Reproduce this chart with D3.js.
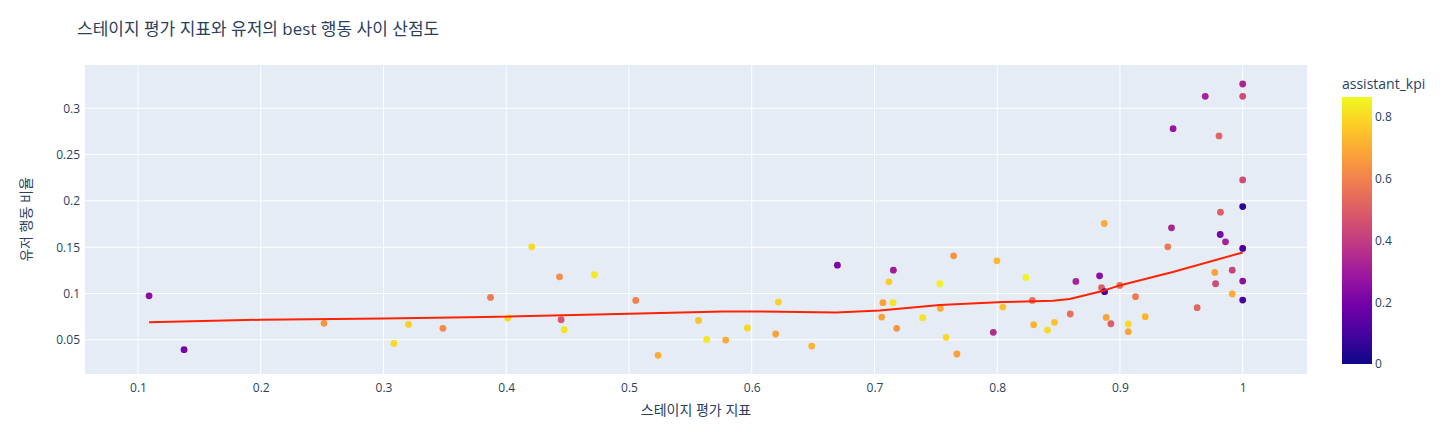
<!DOCTYPE html>
<html>
<head>
<meta charset="utf-8">
<script src="https://cdn.jsdelivr.net/npm/d3@7"></script>
<style>
  body { margin: 0; background: #fff; }
  text { font-family: "Open Sans", "Noto Sans CJK KR", sans-serif; fill: #2a3f5f; }
</style>
</head>
<body>
<svg id="chart" width="1454" height="432"></svg>
<script>
// ---- data ----
const stageScore = [0.109,0.1375,0.2515,0.3085,0.3204,0.3484,0.3872,0.4013,0.4208,0.4434,0.4447,0.4472,0.4719,0.5055,0.5237,0.5566,0.5633,0.5788,0.5965,0.6217,0.6195,0.6489,0.6698,
  0.7069,0.7151,0.7059,0.7118,0.7154,0.7181,0.7393,0.7533,0.7537,0.7645,0.7583,0.7672,0.7968,0.7998,0.8046,0.8234,0.8286,0.8297,0.841,0.8467,0.8595,0.8641,0.8834,0.885,0.8875,0.8888,0.8926,0.8999,0.9068,0.9068,0.9127,0.9206,0.939,0.9629,0.9773,0.9779,0.9817,0.986,0.9915,0.9915,1.0,1.0,1.0,
  1.0,0.9695,1.0,0.9433,0.9807,1.0,1.0,0.9819,0.8872,0.942];
const userRatio = [0.0975,0.0393,0.0677,0.046,0.0666,0.0623,0.0957,0.0735,0.1504,0.118,0.0716,0.0608,0.1202,0.0925,0.0332,0.0709,0.0504,0.0497,0.0627,0.0907,0.0562,0.0432,0.1306,
  0.09,0.09,0.0745,0.1126,0.1252,0.0623,0.0738,0.1105,0.0839,0.1407,0.0526,0.0346,0.058,0.1353,0.0853,0.1173,0.0925,0.0662,0.0605,0.0688,0.0778,0.113,0.1191,0.1062,0.1019,0.0741,0.0673,0.1087,0.067,0.0587,0.0965,0.0749,0.1504,0.0846,0.1227,0.1105,0.1637,0.1558,0.1252,0.0994,0.1486,0.1134,0.0929,
  0.3263,0.313,0.313,0.278,0.2702,0.2227,0.1939,0.1878,0.1756,0.1709];
const assistantKpi = [0.25,0.2,0.65,0.8,0.78,0.62,0.58,0.8,0.8,0.63,0.48,0.82,0.83,0.6,0.7,0.75,0.83,0.7,0.8,0.78,0.68,0.72,0.22,
  0.68,0.82,0.68,0.77,0.3,0.65,0.82,0.85,0.7,0.65,0.8,0.67,0.35,0.73,0.75,0.85,0.55,0.72,0.8,0.75,0.55,0.33,0.25,0.5,0.1,0.68,0.5,0.55,0.8,0.68,0.58,0.72,0.58,0.52,0.68,0.45,0.2,0.32,0.42,0.7,0.1,0.25,0.1,
  0.33,0.32,0.45,0.28,0.52,0.45,0.05,0.5,0.7,0.33];
// lowess trendline
const trendX = [0.109,0.2,0.3,0.3826,0.5,0.5766,0.601,0.669,0.7042,0.7533,0.8046,0.8454,0.859,0.8875,0.8997,0.9431,1.0];
const trendY = [0.0689,0.0716,0.073,0.0745,0.0781,0.0806,0.0806,0.0795,0.0817,0.0875,0.0907,0.0921,0.094,0.1033,0.1087,0.1231,0.1443];
const xTicks = [0.1,0.2,0.3,0.4,0.5,0.6,0.7,0.8,0.9,1];
const yTicks = [0.05,0.1,0.15,0.2,0.25,0.3];
const cTicks = [0,0.2,0.4,0.6,0.8];
const plasma = ['#0d0887','#46039f','#7201a8','#9c179e','#bd3786','#d8576b','#ed7953','#fb9f3a','#fdca26','#f0f921'];

// ---- layout ----
const svg = d3.select('#chart');
const L = 85, R = 1307, T = 65, B = 374;
const x = d3.scaleLinear().domain([0.0568, 1.0524]).range([L, R]);
const y = d3.scaleLinear().domain([0.013, 0.3468]).range([B, T]);
const cmin = 0, cmax = 0.865;
const cScale = d3.scaleLinear()
  .domain(plasma.map((_, i) => cmin + (cmax - cmin) * i / (plasma.length - 1)))
  .range(plasma).interpolate(d3.interpolateRgb).clamp(true);

svg.append('rect').attr('x', L).attr('y', T).attr('width', R - L).attr('height', B - T).attr('fill', '#e5ecf6');

// grid
svg.append('g').selectAll('line').data(xTicks).join('line')
  .attr('x1', d => x(d)).attr('x2', d => x(d)).attr('y1', T).attr('y2', B)
  .attr('stroke', '#fff').attr('stroke-width', 1);
svg.append('g').selectAll('line').data(yTicks).join('line')
  .attr('y1', d => y(d)).attr('y2', d => y(d)).attr('x1', L).attr('x2', R)
  .attr('stroke', '#fff').attr('stroke-width', 1);

// axes via d3
const xAxis = svg.append('g').attr('transform', `translate(0,${B})`)
  .call(d3.axisBottom(x).tickValues(xTicks).tickFormat(d3.format('')).tickSize(0).tickPadding(9));
xAxis.select('.domain').remove();
xAxis.selectAll('text').style('font-size', '12px').attr('fill', '#2a3f5f');
const yAxis = svg.append('g').attr('transform', `translate(${L},0)`)
  .call(d3.axisLeft(y).tickValues(yTicks).tickFormat(d3.format('')).tickSize(0).tickPadding(5));
yAxis.select('.domain').remove();
yAxis.selectAll('text').style('font-size', '12px').attr('fill', '#2a3f5f');

// points
const pts = stageScore.map((v, i) => ({x: v, y: userRatio[i], c: assistantKpi[i]}));
svg.append('g').selectAll('circle').data(pts).join('circle')
  .attr('cx', d => x(d.x)).attr('cy', d => y(d.y)).attr('r', 3.4)
  .attr('fill', d => cScale(d.c));

// trendline
const line = d3.line().x(d => x(d[0])).y(d => y(d[1]));
svg.append('path').datum(trendX.map((v, i) => [v, trendY[i]]))
  .attr('d', line).attr('fill', 'none').attr('stroke', '#ff2200').attr('stroke-width', 2)
  .attr('stroke-linejoin', 'round');

// titles
svg.append('text').attr('x', 77).attr('y', 35).style('font-size', '17px').text('스테이지 평가 지표와 유저의 best 행동 사이 산점도');
svg.append('text').attr('x', (L + R) / 2).attr('y', 415).attr('text-anchor', 'middle').style('font-size', '14px').text('스테이지 평가 지표');
svg.append('text').attr('transform', `translate(31,${(T + B) / 2}) rotate(-90)`).attr('text-anchor', 'middle').style('font-size', '14px').text('유저 행동 비율');

// colorbar
const cbX = 1342, cbW = 30, cbTop = 97, cbBot = 364;
const cy = d3.scaleLinear().domain([cmin, cmax]).range([cbBot, cbTop]);
const defs = svg.append('defs');
const grad = defs.append('linearGradient').attr('id', 'cbgrad').attr('x1', 0).attr('y1', 1).attr('x2', 0).attr('y2', 0);
plasma.forEach((c, i) => grad.append('stop').attr('offset', i / (plasma.length - 1)).attr('stop-color', c));
svg.append('rect').attr('x', cbX).attr('y', cbTop).attr('width', cbW).attr('height', cbBot - cbTop).attr('fill', 'url(#cbgrad)');
const cAxis = svg.append('g').attr('transform', `translate(${cbX + cbW},0)`)
  .call(d3.axisRight(cy).tickValues(cTicks).tickFormat(d3.format('')).tickSize(0).tickPadding(3));
cAxis.select('.domain').remove();
cAxis.selectAll('text').style('font-size', '12px').attr('fill', '#2a3f5f');
svg.append('text').attr('x', 1342).attr('y', 89).style('font-size', '14px').text('assistant_kpi');
</script>
</body>
</html>
